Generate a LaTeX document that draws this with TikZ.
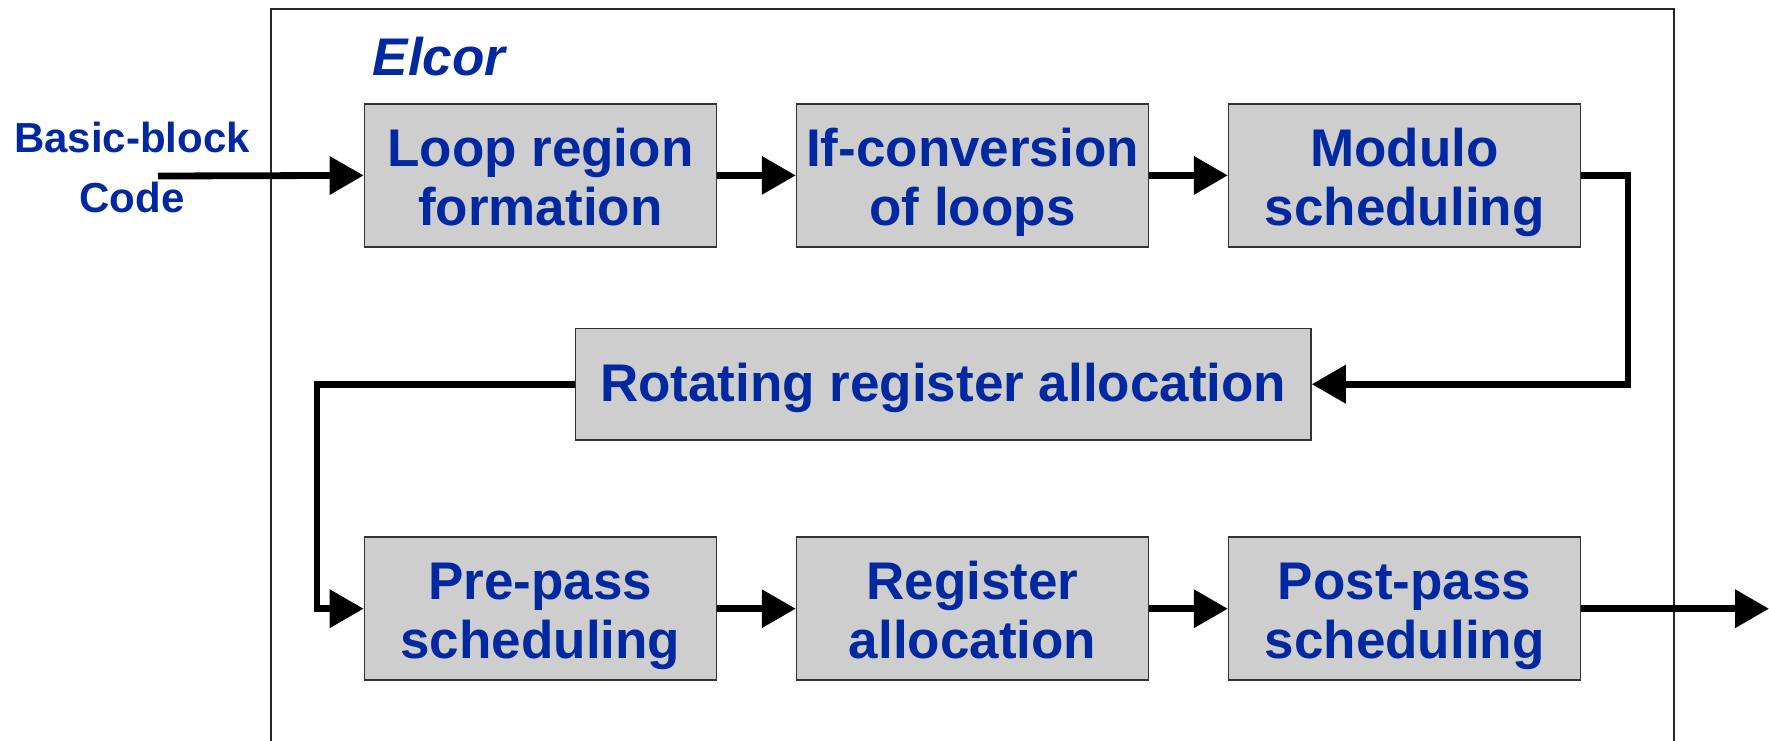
\documentclass[tikz,border=0pt]{standalone}
\usepackage{fontspec}
\setmainfont{Liberation Sans}
\usetikzlibrary{arrows.meta}
\definecolor{txtblue}{RGB}{0,40,160}
\definecolor{boxgray}{RGB}{206,206,206}
% struts that fix the first baseline and the last depth of every box text
\newcommand{\tallstrut}{\rule{0pt}{52.4pt}}
\newcommand{\deepstrut}{\rule[-12pt]{0pt}{12pt}}
\newcommand{\onestrut}{\rule[-12.2pt]{0pt}{59.8pt}}

\begin{document}
\begin{tikzpicture}[x=1pt,y=-1pt,
  stage/.style={draw=black!80, line width=1.5pt, fill=boxgray,
    minimum width=352pt, minimum height=143pt, inner sep=0pt,
    align=center, text=txtblue, font=\fontsize{53}{59}\selectfont\bfseries},
  lbl/.style={text=txtblue, inner sep=0pt, font=\fontsize{42}{48}\selectfont\bfseries},
  flow/.style={line width=6.8pt, -{Triangle[length=34pt,width=37pt]}}
]
\useasboundingbox (0,0) rectangle (1769,740);
\clip (0,0) rectangle (1769,740);

% outer frame of the compiler
\draw[line width=1.6pt, black!85] (271,760) -- (271,9) -- (1674,9) -- (1674,760);
\node[text=txtblue, inner sep=0pt, font=\fontsize{53}{60}\selectfont\bfseries\itshape] (elcor) at (439,57) {Elcor};

% input label
\node[lbl] (in1) at (132,137) {Basic-block};
\node[lbl] (in2) at (132,197) {Code};

% passes
\node[stage] (b1) at (540.4,175.4) {\tallstrut Loop region\\formation\deepstrut};
\node[stage] (b2) at (972.5,175.4) {\tallstrut If-conversion\\of loops\deepstrut};
\node[stage] (b3) at (1404.6,175.4) {\tallstrut Modulo\\scheduling\deepstrut};
\node[stage, minimum width=735.6pt, minimum height=111.7pt] (b4) at (943.2,384.2) {\onestrut Rotating register allocation};
\node[stage] (b5) at (540.4,608.7) {\tallstrut Pre-pass\\scheduling\deepstrut};
\node[stage] (b6) at (972.5,608.7) {\tallstrut Register\\allocation\deepstrut};
\node[stage] (b7) at (1404.6,608.7) {\tallstrut Post-pass\\scheduling\deepstrut};

% connectors
\coordinate (src) at (158,176);
\coordinate (rt) at (1628,175.4);
\coordinate (lt) at (317,384.2);
\coordinate (dst) at (1769,608.7);
\draw[flow] (src) -- (b1.west);
\draw[flow] (b1) -- (b2);
\draw[flow] (b2) -- (b3);
\draw[flow] (b3.east) -- (rt) |- (b4.east);
\draw[flow] (b4.west) -- (lt) |- (b5.west);
\draw[flow] (b5) -- (b6);
\draw[flow] (b6) -- (b7);
\draw[flow] (b7.east) -- (dst);
\end{tikzpicture}
\end{document}
